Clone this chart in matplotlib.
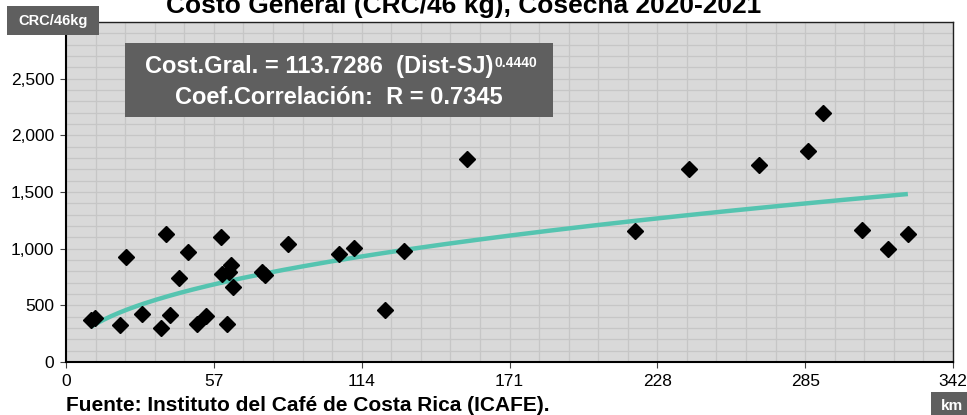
import matplotlib
matplotlib.use("Agg")
import matplotlib.pyplot as plt
import numpy as np
from matplotlib.ticker import MultipleLocator, FuncFormatter

plt.rcParams['font.family'] = ['Liberation Sans', 'DejaVu Sans']

# Data: distance to San José (km) vs general cost (CRC/46 kg)
dist_km = [9.5, 11.0, 20.8, 23.1, 29.4, 36.7, 38.4, 40.1, 43.4, 46.9, 50.4, 53.8,
           59.9, 60.0, 62.7, 63.5, 62.1, 64.5, 75.5, 76.8, 85.6, 105.4, 111.0,
           123.0, 130.3, 154.6, 219.4, 240.2, 267.2, 286.0, 291.7, 307.1, 317.1, 324.6]
cost_crc = [370, 385, 329, 927, 421, 303, 1128, 412, 745, 972, 336, 409,
            1107, 777, 790, 853, 336, 662, 790, 770, 1045, 957, 1007,
            459, 983, 1793, 1157, 1705, 1740, 1864, 2197, 1163, 998, 1133]

# Power trendline coefficients (from chart annotation)
coef_a = 113.7286
coef_b = 0.4440
coef_r = 0.7345

x_ticks = [0, 57, 114, 171, 228, 285, 342]

W, H = 967, 415
fig = plt.figure(figsize=(9.67, 4.15), dpi=100)
ax = fig.add_axes([66/W, 1-362/H, (953-66)/W, (362-22)/H])
ax.set_facecolor('#d9d9d9')

ax.set_xlim(0, 342)
ax.set_ylim(0, 3000)
ax.set_xticks(x_ticks)
ax.xaxis.set_minor_locator(MultipleLocator(11.4))
ax.yaxis.set_major_locator(MultipleLocator(500))
ax.yaxis.set_minor_locator(MultipleLocator(100))
ax.yaxis.set_major_formatter(FuncFormatter(lambda v, p: f"{int(v):,}"))
ax.grid(True, which='both', color='#c6c6c6', linewidth=0.9)
ax.set_axisbelow(True)
ax.tick_params(axis='both', which='major', labelsize=12.5, length=4.5, direction='out', color='#404040', pad=4)
ax.tick_params(axis='both', which='minor', length=0)
for s in ['top', 'right']:
    ax.spines[s].set_color('#202020')
    ax.spines[s].set_linewidth(1.0)
for s in ['left', 'bottom']:
    ax.spines[s].set_color('black')
    ax.spines[s].set_linewidth(1.5)

# trendline
xs = np.linspace(min(dist_km), max(dist_km), 200)
ax.plot(xs, coef_a * xs ** coef_b, color='#55c4b0', linewidth=3.2, zorder=2, solid_capstyle='butt')

ax.plot(dist_km, cost_crc, linestyle='none', marker='D', markersize=8, color='black', zorder=3)

# annotation box
fig.patches.append(plt.Rectangle((125/W, 1-117/H), (553-125)/W, (117-43)/H,
                                 transform=fig.transFigure, facecolor='#5f5f5f', edgecolor='none', zorder=5))
t1 = fig.text(145/W, 1-67/H, "Cost.Gral. = 113.7286  (Dist-SJ)", color='white', fontsize=17,
              fontweight='bold', ha='left', va='center', zorder=6)
fig.canvas.draw()
bb = t1.get_window_extent()
fig.text((bb.x1 + 1) / W, 1-67/H, f"{coef_b:.4f}", color='white', fontsize=10,
         fontweight='bold', ha='left', va='baseline', zorder=6)
fig.text(339/W, 1-97/H, f"Coef.Correlación:  R = {coef_r:.4f}", color='white', fontsize=17,
         fontweight='bold', ha='center', va='center', zorder=6)

# title
fig.text(464/W, 1-13/H, "Costo General (CRC/46 kg), Cosecha 2020-2021", fontsize=19,
         fontweight='bold', ha='center', va='baseline', color='black')

# y unit box
fig.patches.append(plt.Rectangle((7/W, 1-35/H), (99-7)/W, (35-6)/H,
                                 transform=fig.transFigure, facecolor='#5f5f5f', edgecolor='none'))
fig.text(53/W, 1-20.5/H, "CRC/46kg", color='white', fontsize=10.5, fontweight='bold', ha='center', va='center')

# x unit box
fig.patches.append(plt.Rectangle((931/W, 0), (W-931)/W, (H-392)/H,
                                 transform=fig.transFigure, facecolor='#5f5f5f', edgecolor='none'))
fig.text(952/W, 1-406/H, "km", color='white', fontsize=11, fontweight='bold', ha='center', va='center')

# source
fig.text(66/W, 1-405/H, "Fuente: Instituto del Café de Costa Rica (ICAFE).", fontsize=15,
         fontweight='bold', ha='left', va='center')

fig.savefig("out.png", dpi=100)
